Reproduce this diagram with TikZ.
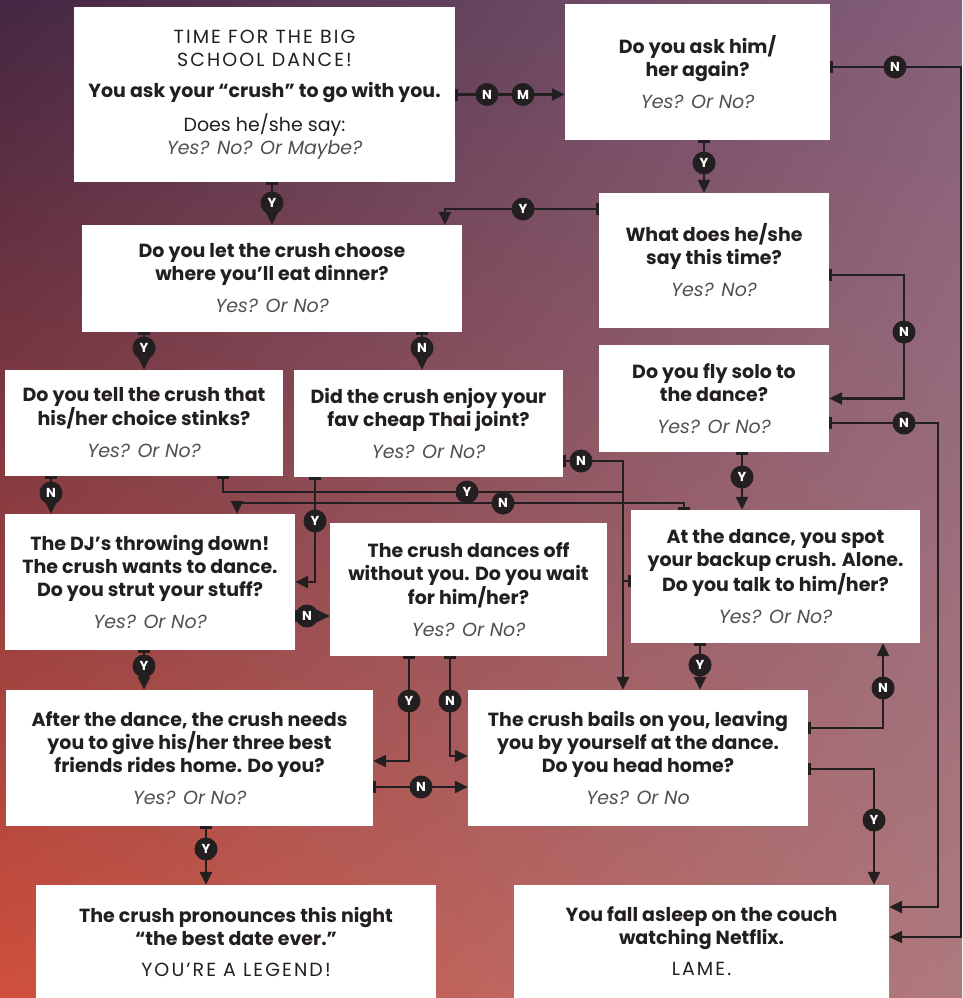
\documentclass[tikz,border=0pt]{standalone}
\usepackage{fontspec}
\setmainfont{Poppins}
\usetikzlibrary{arrows.meta}
\usetikzlibrary{shadings}

\definecolor{ink}{HTML}{231F20}
\definecolor{soft}{HTML}{55504F}
\definecolor{bgtl}{HTML}{442743}
\definecolor{bgtr}{HTML}{86607A}
\definecolor{bgbl}{HTML}{D0503C}
\definecolor{bgbr}{HTML}{AE7A7E}

\newcommand{\yesno}{{\mdseries\itshape\color{soft}Yes? Or No?}}

\begin{document}
\begin{tikzpicture}[x=1pt, y=-1pt,
  box/.style={fill=white, align=center, inner sep=0pt, text=ink,
    font=\fontsize{19}{23}\selectfont\bfseries},
  tag/.style={circle, fill=ink, text=white, inner sep=0pt, minimum size=23pt,
    font=\fontsize{13}{13}\selectfont\bfseries},
  link/.style={draw=ink, line width=2.4pt, {Bar[width=12pt]}-{Triangle[length=13pt, width=12pt]}},
  feed/.style={draw=ink, line width=2.4pt, {Bar[width=12pt]}-}]

\useasboundingbox (0,0) rectangle (962,998);
\shade[upper left=bgtl, upper right=bgtr, lower left=bgbl, lower right=bgbr]
  (0,0) rectangle (962,998);

\node[box, minimum width=381pt, minimum height=175pt] (start) at (264.5,94.5)
  {{\mdseries\addfontfeature{LetterSpace=11}TIME FOR THE BIG}\\
   {\mdseries\addfontfeature{LetterSpace=11}SCHOOL DANCE!}\\[8pt]
   You ask your “crush” to go with you.\\[10pt]
   {\mdseries Does he/she say:}\\
   {\mdseries\itshape\color{soft}Yes? No? Or Maybe?}};
\node[box, minimum width=265pt, minimum height=136pt] (again) at (697.5,72)
  {Do you ask him/\\her again?\\[9pt]\yesno};
\node[box, minimum width=380pt, minimum height=107pt] (dinner) at (272,278.5)
  {Do you let the crush choose\\where you’ll eat dinner?\\[9pt]\yesno};
\node[box, minimum width=230pt, minimum height=135pt] (say) at (714,260.5)
  {What does he/she\\say this time?\\[9pt]{\mdseries\itshape\color{soft}Yes? No?}};
\node[box, minimum width=278pt, minimum height=106pt] (stinks) at (144,423)
  {Do you tell the crush that\\his/her choice stinks?\\[9pt]\yesno};
\node[box, minimum width=269pt, minimum height=107pt] (thai) at (428.5,423.5)
  {Did the crush enjoy your\\fav cheap Thai joint?\\[9pt]\yesno};
\node[box, minimum width=230pt, minimum height=107pt] (solo) at (714,398.5)
  {Do you fly solo to\\the dance?\\[9pt]\yesno};
\node[box, minimum width=290pt, minimum height=136pt] (dj) at (150,582)
  {The DJ’s throwing down!\\The crush wants to dance.\\Do you strut your stuff?\\[9pt]\yesno};
\node[box, minimum width=277pt, minimum height=133pt] (wait) at (468.5,589.5)
  {The crush dances off\\without you. Do you wait\\for him/her?\\[9pt]\yesno};
\node[box, minimum width=289pt, minimum height=133pt] (backup) at (775.5,576.5)
  {At the dance, you spot\\your backup crush. Alone.\\Do you talk to him/her?\\[9pt]\yesno};
\node[box, minimum width=367pt, minimum height=136pt] (rides) at (189.5,758)
  {After the dance, the crush needs\\you to give his/her three best\\friends rides home. Do you?\\[9pt]\yesno};
\node[box, minimum width=340pt, minimum height=136pt] (bails) at (638,758)
  {The crush bails on you, leaving\\you by yourself at the dance.\\Do you head home?\\[9pt]{\mdseries\itshape\color{soft}Yes? Or No}};
\node[box, minimum width=400pt, minimum height=113pt] (legend) at (236,941.5)
  {The crush pronounces this night\\“the best date ever.”\\[8pt]{\mdseries\addfontfeature{LetterSpace=11}YOU’RE A LEGEND!}};
\node[box, minimum width=375pt, minimum height=113pt] (lame) at (701.5,941.5)
  {You fall asleep on the couch\\watching Netflix.\\[8pt]{\mdseries\addfontfeature{LetterSpace=11}LAME.}};

\draw[link] (start.east) -- (start.east -| again.west);
\draw[link] (start.south -| dinner.north) -- (dinner.north);
\draw[link] ([yshift=5pt]again.east) -- ++(131,0) |- ([yshift=4.5pt]lame.east);
\draw[link] ([xshift=6.5pt]again.south) -- ([xshift=6.5pt]again.south |- say.north);
\draw[link] ([yshift=51.5pt]say.west) -| ([xshift=173pt]dinner.north);
\draw[link] ([yshift=-14.5pt]say.east) -- ++(75,0) |- (solo.east);
\draw[link] ([yshift=-24.5pt]solo.east) -- ++(109,0) |- ([yshift=34.5pt]lame.east);
\draw[link] ([xshift=28pt]solo.south) -- ([xshift=28pt]solo.south |- backup.north);
\draw[link] (dinner.south -| stinks.north) -- (stinks.north);
\draw[link] ([xshift=150pt]dinner.south) -- ([xshift=150pt]dinner.south |- thai.north);
\draw[link] ([xshift=-93pt]stinks.south) -- ([xshift=-93pt]stinks.south |- dj.north);
\draw[feed] ([xshift=79pt]stinks.south) -- ++(0,16) -- ++(400,0);
\draw[link] ([yshift=-37.5pt]thai.east) -| ([xshift=-15pt]bails.north);
\draw[link] ([xshift=-113.5pt]thai.south) |- (dj.east);
\draw[link] ([xshift=-91.5pt]backup.north) -- ++(0,-7) -| ([xshift=87pt]dj.north);
\draw[feed] ([yshift=-4.5pt]backup.west) -- ++(-8,0);
\draw[link] ([xshift=-75.5pt]backup.south) -- ([xshift=-75.5pt]backup.south |- bails.north);
\draw[link] ([yshift=-34pt]dj.east) -- ([yshift=-34pt]dj.east -| wait.west);
\draw[link] ([xshift=-6pt]dj.south) -- ([xshift=-6pt]dj.south |- rides.north);
\draw[link] ([xshift=-59.5pt]wait.south) |- ([yshift=-3pt]rides.east);
\draw[link] ([xshift=-18.5pt]wait.south) |- ([yshift=2pt]bails.west);
\draw[link] ([yshift=-29pt]rides.east) -- ([yshift=-29pt]rides.east -| bails.west);
\draw[link] ([xshift=16.5pt]rides.south) -- ([xshift=16.5pt]rides.south |- legend.north);
\draw[link] ([yshift=30pt]bails.east) -| ([xshift=107.5pt]backup.south);
\draw[link] ([yshift=-11pt]bails.east) -| ([xshift=172.5pt]lame.north);

\node[tag] (startN) at (487,94.5) {N};
\node[tag] (startM) at (523,94.5) {M};
\node[tag] (startY) at (272,203) {Y};
\node[tag] (againN) at (895,67) {N};
\node[tag] (againY) at (704,163) {Y};
\node[tag] (sayY) at (523,209) {Y};
\node[tag] (sayN) at (904,332) {N};
\node[tag] (soloN) at (904,423) {N};
\node[tag] (soloY) at (742,477) {Y};
\node[tag] (dinnerY) at (144,348) {Y};
\node[tag] (dinnerN) at (422,348) {N};
\node[tag] (stinksN) at (51,493) {N};
\node[tag] (stinksY) at (467,492) {Y};
\node[tag] (thaiN) at (581,461) {N};
\node[tag] (thaiY) at (315,521) {Y};
\node[tag] (backupN) at (503,503) {N};
\node[tag] (backupY) at (700,665) {Y};
\node[tag] (djN) at (307,616) {N};
\node[tag] (djY) at (144,666) {Y};
\node[tag] (waitY) at (409,701) {Y};
\node[tag] (waitN) at (450,701) {N};
\node[tag] (ridesN) at (421,787) {N};
\node[tag] (ridesY) at (206,849) {Y};
\node[tag] (bailsN) at (883,688) {N};
\node[tag] (bailsY) at (874,820) {Y};
\end{tikzpicture}
\end{document}
